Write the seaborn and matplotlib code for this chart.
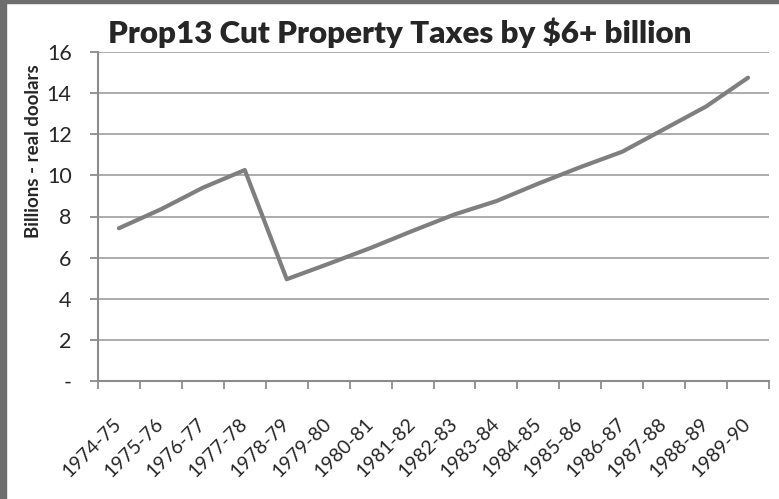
import numpy as np
import pandas as pd
import matplotlib
matplotlib.use("Agg")
import matplotlib.pyplot as plt
from matplotlib.patches import Rectangle
from matplotlib.ticker import FixedLocator, FuncFormatter
import seaborn as sns

# Data
years = ['1974-75', '1975-76', '1976-77', '1977-78', '1978-79', '1979-80',
         '1980-81', '1981-82', '1982-83', '1983-84', '1984-85', '1985-86',
         '1986-87', '1987-88', '1988-89', '1989-90']
taxes = [7.43, 8.35, 9.4, 10.26, 4.95, 5.7, 6.47, 7.3, 8.1, 8.75,
         9.6, 10.4, 11.15, 12.25, 13.35, 14.75]
y_ticks = [0, 2, 4, 6, 8, 10, 12, 14, 16]

df = pd.DataFrame({'year': years, 'taxes': taxes})

sns.set_style('white')
plt.rcParams['font.family'] = ['Lato', 'DejaVu Sans']

fig = plt.figure(figsize=(7.79, 4.99), dpi=100)
ax = fig.add_axes([98 / 779, 1 - 381 / 499, 671 / 779, 329 / 499])

sns.lineplot(data=df, x='year', y='taxes', ax=ax, sort=False,
             color='#7f7f7f', linewidth=3.0, zorder=3)

ax.set_xlim(-0.5, len(years) - 0.5)
ax.set_ylim(0, 16)

# gridlines
ax.yaxis.set_major_locator(FixedLocator(y_ticks))
ax.yaxis.set_major_formatter(FuncFormatter(lambda v, p: '-' if v == 0 else f'{v:.0f}'))
ax.grid(axis='y', color='#a6a6a6', linewidth=1.3)
ax.grid(axis='x', visible=False)
ax.set_axisbelow(True)

for side in ['top', 'right']:
    ax.spines[side].set_visible(False)
for side in ['left', 'bottom']:
    ax.spines[side].set_color('#8c8c8c')
    ax.spines[side].set_linewidth(1.5)

ax.tick_params(axis='y', which='major', direction='out', length=6, width=1.3,
               color='#8c8c8c', labelsize=15.5, pad=13, left=True)

# category labels at centres, tick marks at boundaries
ax.set_xticks(range(len(years)))
ax.set_xticklabels(years, rotation=45, ha='right', va='center', rotation_mode='anchor')
ax.set_xticks(np.arange(-0.5, len(years)), minor=True)
ax.tick_params(axis='x', which='major', length=0, labelsize=14, pad=29)
ax.tick_params(axis='x', which='minor', direction='out', length=6, width=1.3,
               color='#8c8c8c', bottom=True)

ax.set_xlabel('')
ax.set_ylabel('Billions - real doolars', fontsize=13.5, fontweight='bold')
ax.yaxis.set_label_coords(-0.084, 0.70)
fig.text(0.513, 0.935, 'Prop13 Cut Property Taxes by $6+ billion',
         ha='center', va='center', fontsize=22.5, fontweight='heavy')

# grey frame from the screenshot
fig.patches.append(Rectangle((0, 0), 6 / 779, 1, transform=fig.transFigure,
                             color='#6e6e6e', zorder=0))
fig.patches.append(Rectangle((0, 1 - 3 / 499), 1, 3 / 499, transform=fig.transFigure,
                             color='#6e6e6e', zorder=0))

fig.savefig('out.png', dpi=100)
